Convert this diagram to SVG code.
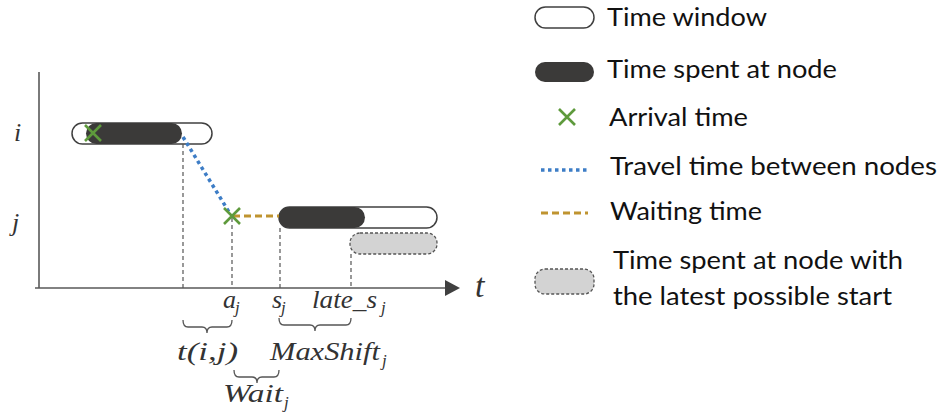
<svg xmlns="http://www.w3.org/2000/svg" width="941" height="420" viewBox="0 0 941 420">
<defs>
<style>
.win{fill:#ffffff;stroke:#404040;stroke-width:1.5}
.spent{fill:#3b3a39;stroke:none}
.late{fill:#d3d3d3;stroke:#555555;stroke-width:1.3;stroke-dasharray:3 2}
.xm{stroke:#5e9a3c;stroke-width:2.6;fill:none}
.travel{stroke:#3d7dc6;stroke-width:3.5;stroke-dasharray:3.5 3.5;fill:none}
.wait{stroke:#bf9430;stroke-width:2.8;stroke-dasharray:7 4;fill:none}
.guide{stroke:#555555;stroke-width:1.2;stroke-dasharray:4 3;fill:none}
.axis{stroke:#595959;stroke-width:1.6;fill:none}
.brace{stroke:#555555;stroke-width:1.3;fill:none}
.math{font-family:"Liberation Serif","DejaVu Serif",serif;font-style:italic;fill:#333333}
.leg{font-family:Lato,"Open Sans","Liberation Sans",sans-serif;font-size:25px;fill:#111111}
</style>
</defs>

<g id="axes">
<line class="axis" x1="39" y1="72" x2="39" y2="288"/>
<line class="axis" x1="35" y1="288" x2="447" y2="288"/>
<polygon points="445,280 460,288 445,296" fill="#404040"/>
<text class="math" x="475" y="297" font-size="34">t</text>
<text class="math" x="14" y="141" font-size="26">i</text>
<text class="math" x="12" y="231" font-size="26">j</text>
</g>

<g id="node-i">
<rect class="win" x="72" y="123" width="140" height="21" rx="10.5"/>
<rect class="spent" x="86" y="123" width="96" height="21" rx="10.5"/>
<path class="xm" d="M85,125 L101,141 M101,125 L85,141"/>
</g>

<g id="node-j">
<rect class="win" x="279" y="207" width="158" height="21" rx="10.5"/>
<rect class="spent" x="279" y="207" width="86" height="21" rx="10.5"/>
<rect class="late" x="350" y="233" width="87" height="21" rx="10"/>
</g>

<g id="connectors">
<line class="guide" x1="183" y1="144" x2="183" y2="288"/>
<line class="guide" x1="232" y1="218" x2="232" y2="288"/>
<line class="guide" x1="280" y1="228" x2="280" y2="288"/>
<line class="guide" x1="351" y1="254" x2="351" y2="288"/>
<line class="travel" x1="183" y1="137" x2="229" y2="212"/>
<line class="wait" x1="233" y1="216" x2="279" y2="216"/>
<path class="xm" d="M224,208 L240,224 M240,208 L224,224"/>
</g>

<g id="labels">
<text class="math" x="223" y="308" font-size="26">a</text>
<text class="math" x="235" y="313" font-size="17">j</text>
<text class="math" x="272" y="308" font-size="26">s</text>
<text class="math" x="281" y="313" font-size="17">j</text>
<text class="math" x="312" y="308" font-size="26" textLength="65" lengthAdjust="spacingAndGlyphs">late_s</text>
<text class="math" x="381" y="313" font-size="17">j</text>
<path class="brace" d="M183,320 Q183,327 188,327 L202,327 Q207,327 207,333 Q207,327 212,327 L227,327 Q232,327 232,320"/>
<path class="brace" d="M279,318 Q279,325 284,325 L310,325 Q315,325 315,331 Q315,325 320,325 L346,325 Q351,325 351,318"/>
<path class="brace" d="M234,370 Q234,377 239,377 L252,377 Q257,377 257,383 Q257,377 262,377 L274,377 Q279,377 279,370"/>
<text class="math" x="177" y="360" font-size="25" textLength="61" lengthAdjust="spacingAndGlyphs">t(i,j)</text>
<text class="math" x="270" y="360" font-size="25" textLength="110" lengthAdjust="spacingAndGlyphs">MaxShift</text>
<text class="math" x="382" y="366" font-size="17">j</text>
<text class="math" x="223" y="402" font-size="25" textLength="60" lengthAdjust="spacingAndGlyphs">Wait</text>
<text class="math" x="284" y="408" font-size="17">j</text>
</g>

<g id="legend">
<rect class="win" x="535" y="7" width="59" height="21" rx="10.5"/>
<text class="leg" x="607" y="26" textLength="160" lengthAdjust="spacingAndGlyphs">Time window</text>
<rect class="spent" x="535" y="62" width="59" height="20" rx="10"/>
<text class="leg" x="607" y="78" textLength="230" lengthAdjust="spacingAndGlyphs">Time spent at node</text>
<path class="xm" d="M559,109 L575,125 M575,109 L559,125"/>
<text class="leg" x="609" y="126" textLength="139" lengthAdjust="spacingAndGlyphs">Arrival time</text>
<line class="travel" x1="541" y1="170" x2="588" y2="170"/>
<text class="leg" x="610" y="175" textLength="327" lengthAdjust="spacingAndGlyphs">Travel time between nodes</text>
<line class="wait" x1="541" y1="213" x2="588" y2="213"/>
<text class="leg" x="610" y="220" textLength="152" lengthAdjust="spacingAndGlyphs">Waiting time</text>
<rect class="late" x="535" y="269" width="59" height="25" rx="10"/>
<text class="leg" x="613" y="269" textLength="290" lengthAdjust="spacingAndGlyphs">Time spent at node with</text>
<text class="leg" x="613" y="305" textLength="279" lengthAdjust="spacingAndGlyphs">the latest possible start</text>
</g>
</svg>
